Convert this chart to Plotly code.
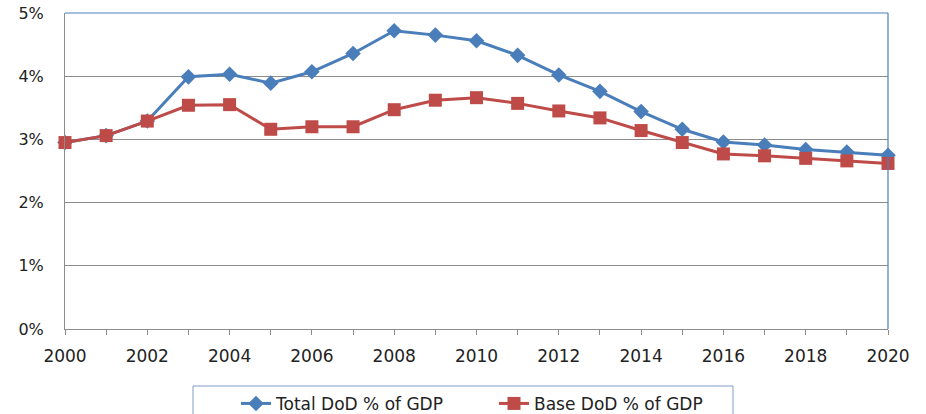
import plotly.graph_objects as go

years = list(range(2000, 2021))
total_dod = [2.95, 3.06, 3.29, 3.99, 4.03, 3.89, 4.07, 4.36, 4.72, 4.65, 4.56, 4.33,
             4.02, 3.76, 3.44, 3.16, 2.96, 2.91, 2.84, 2.80, 2.75]
base_dod = [2.95, 3.06, 3.29, 3.54, 3.55, 3.16, 3.20, 3.20, 3.47, 3.62, 3.66, 3.57,
            3.45, 3.34, 3.14, 2.95, 2.77, 2.74, 2.70, 2.66, 2.62]
y_ticks = [0, 1, 2, 3, 4, 5]
y_ticktext = ["0%", "1%", "2%", "3%", "4%", "5%"]
x_ticktext = [str(y) if y % 2 == 0 else "" for y in years]

BLUE = "#4A7EBB"
RED = "#BE4B48"
GRID = "#8C8C8C"
FONT = "DejaVu Sans"
TXT = "#222222"

fig = go.Figure()
fig.add_trace(go.Scatter(
    x=years, y=total_dod, name="Total DoD % of GDP", mode="lines+markers",
    line=dict(color=BLUE, width=3),
    marker=dict(symbol="diamond", size=12, color=BLUE),
    cliponaxis=False,
))
fig.add_trace(go.Scatter(
    x=years, y=base_dod, name="Base DoD % of GDP", mode="lines+markers",
    line=dict(color=RED, width=3),
    marker=dict(symbol="square", size=13, color=RED),
    cliponaxis=False,
))

# top and right plot-area border (blue)
fig.add_shape(type="line", xref="paper", yref="paper", x0=0, x1=1, y0=1, y1=1,
              line=dict(color=BLUE, width=1))
fig.add_shape(type="line", xref="paper", yref="paper", x0=1, x1=1, y0=0, y1=1,
              line=dict(color=BLUE, width=1.2))
# legend frame
fig.add_shape(type="rect", xref="paper", yref="paper",
              x0=(193 - 65) / 823, x1=(733 - 65) / 823, y0=-0.40, y1=-57 / 316,
              line=dict(color="#7F9CC8", width=1), fillcolor="rgba(0,0,0,0)")

fig.update_layout(
    width=926, height=414,
    margin=dict(l=65, r=38, t=13, b=85, autoexpand=False),
    paper_bgcolor="white", plot_bgcolor="white",
    font=dict(family=FONT, size=16, color=TXT),
    showlegend=True,
    legend=dict(
        orientation="h", xref="container", x=236 / 926, xanchor="left",
        yref="paper", y=-0.18, yanchor="top",
        borderwidth=0, bgcolor="rgba(0,0,0,0)",
        font=dict(family=FONT, size=17, color=TXT),
        entrywidth=213,
        traceorder="normal",
    ),
    xaxis=dict(
        range=[2000, 2020], tickmode="array", tickvals=years, ticktext=x_ticktext,
        showgrid=False, showline=True, linecolor=GRID, linewidth=1,
        ticks="outside", ticklen=5, tickcolor=GRID, tickwidth=1,
        ticklabelstandoff=7, zeroline=False,
        tickfont=dict(family=FONT, size=17, color=TXT),
    ),
    yaxis=dict(
        range=[0, 5], tickmode="array", tickvals=y_ticks, ticktext=y_ticktext,
        showgrid=True, gridcolor=GRID, gridwidth=1,
        showline=True, linecolor=GRID, linewidth=1, zeroline=False,
        ticks="", ticklabelstandoff=17,
        tickfont=dict(family=FONT, size=16, color=TXT),
    ),
)

fig.write_html("out.html", post_script="document.body.style.margin='0';",
               config={"displayModeBar": False})
